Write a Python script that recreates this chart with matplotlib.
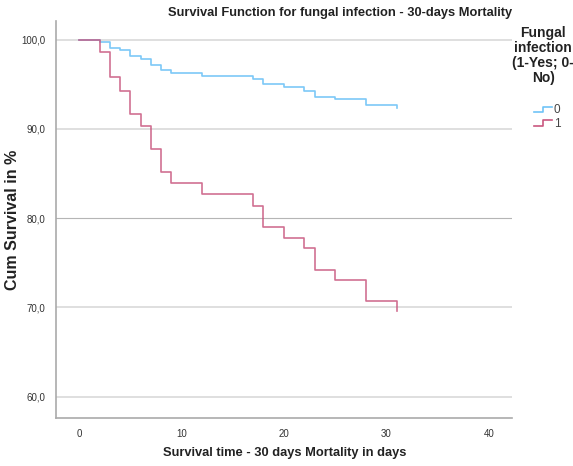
import matplotlib
matplotlib.use("Agg")
import matplotlib.pyplot as plt
from matplotlib.lines import Line2D
from matplotlib.legend_handler import HandlerBase
from matplotlib.ticker import FuncFormatter

plt.rcParams['font.family'] = ['Liberation Sans', 'DejaVu Sans']

# Kaplan-Meier steps
days_no = [0, 2, 3, 4, 5, 6, 7, 8, 9, 12, 17, 18, 20, 22, 23, 25, 28, 31]
surv_no = [100, 99.7, 99.1, 98.8, 98.2, 97.8, 97.2, 96.6, 96.3, 95.9, 95.6,
           95.0, 94.7, 94.3, 93.6, 93.3, 92.7, 92.4]
days_yes = [0, 2, 3, 4, 5, 6, 7, 8, 9, 12, 17, 18, 20, 22, 23, 25, 28, 31]
surv_yes = [100, 98.6, 95.8, 94.3, 91.7, 90.3, 87.8, 85.2, 83.9, 82.7, 81.4,
            79.0, 77.8, 76.6, 74.2, 73.1, 70.7, 69.6]
group_labels = ['0', '1']
x_ticks = [0, 10, 20, 30, 40]
y_ticks = [60, 70, 80, 90, 100]

blue = '#6fc3f7'
red = '#c9577f'


class StepHandler(HandlerBase):
    # little step icon like the SPSS legend
    def create_artists(self, legend, orig_handle, xdescent, ydescent,
                       width, height, fontsize, trans):
        w, h = width, height
        xs = [0, w * 0.5, w * 0.5, w]
        ys = [h * 0.1, h * 0.1, h * 0.75, h * 0.75]
        ln = Line2D(xs, ys, color=orig_handle.get_color(),
                    lw=orig_handle.get_linewidth(), transform=trans)
        return [ln]


fig = plt.figure(figsize=(5.73, 4.66), dpi=100)
ax = fig.add_axes([0.098, 0.103, 0.796, 0.852])

for y in y_ticks:
    if y == 80:
        ax.axhline(y, color='#b5b5b5', lw=0.8, zorder=0)
    else:
        ax.axhline(y, color='#dcdcdc', lw=1.3, zorder=0)

l0, = ax.step(days_no, surv_no, where='post', color=blue, lw=1.2, alpha=0.9)
l1, = ax.step(days_yes, surv_yes, where='post', color=red, lw=1.2, alpha=0.85)

ax.set_xlim(-2.25, 42.3)
ax.set_ylim(57.6, 102.1)
ax.set_xticks(x_ticks)
ax.set_yticks(y_ticks)
ax.yaxis.set_major_formatter(FuncFormatter(lambda v, p: f"{v:.1f}".replace('.', ',')))
ax.tick_params(length=0, labelsize=7, colors='#333333', pad=8)

for s in ['top', 'right']:
    ax.spines[s].set_visible(False)
for s in ['left', 'bottom']:
    ax.spines[s].set_color('#aaaaaa')
    ax.spines[s].set_linewidth(1.2)

fig.text(0.593, 0.973, 'Survival Function for fungal infection - 30-days Mortality',
         ha='center', va='center', fontsize=9.3, fontweight='bold', color='#222222')
fig.text(0.497, 0.027, 'Survival time - 30 days Mortality in days',
         ha='center', va='center', fontsize=9.3, fontweight='bold', color='#222222')
fig.text(0.021, 0.528, 'Cum Survival in %', rotation=90,
         ha='center', va='center', fontsize=11.5, fontweight='bold', color='#222222')

# legend title written separately so its spacing can follow the picture
fig.text(0.948, 0.945, 'Fungal\ninfection\n(1-Yes; 0-\nNo)', ha='center', va='top',
         fontsize=10, fontweight='bold', color='#222222', linespacing=1.1)

leg = fig.legend([l0, l1], group_labels, handler_map={Line2D: StepHandler()},
                 loc='upper left', bbox_to_anchor=(0.922, 0.79),
                 frameon=False, fontsize=8.5, handlelength=1.5, handletextpad=0.15,
                 labelspacing=0.15, borderpad=0)
for t in leg.get_texts():
    t.set_color('#444444')

fig.savefig('out.png', dpi=100)
